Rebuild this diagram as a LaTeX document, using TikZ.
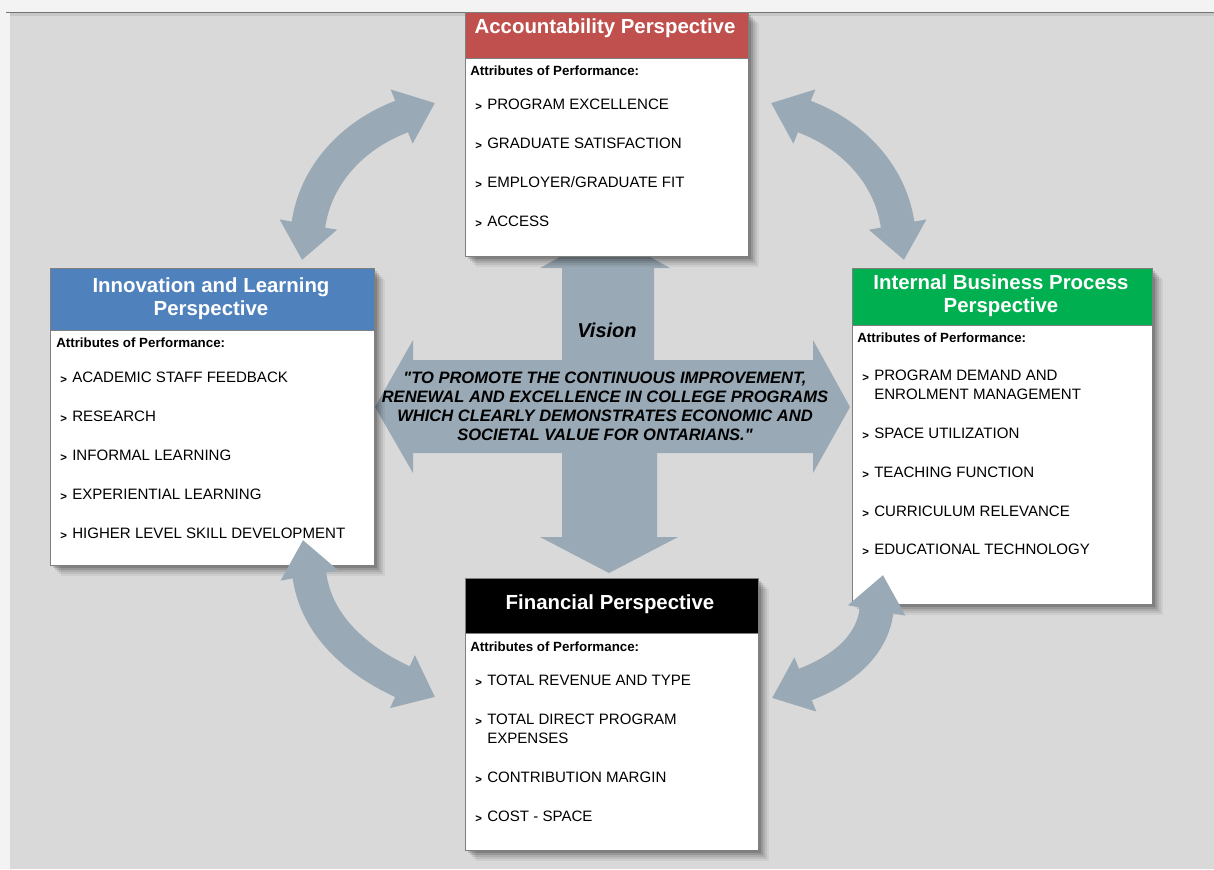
\documentclass[tikz,border=0pt]{standalone}
\usepackage{fontspec}
\setmainfont{Liberation Sans}
\usetikzlibrary{arrows.meta}
\definecolor{bgc}{HTML}{D9D9D9}
\definecolor{topc}{HTML}{F3F3F3}
\definecolor{arrc}{HTML}{99A9B5}
\definecolor{redh}{HTML}{C0504D}
\definecolor{blueh}{HTML}{4F81BD}
\definecolor{greenh}{HTML}{00B050}
\definecolor{edgec}{HTML}{7F7F7F}
\newcommand\bulmark{\makebox[0pt][r]{\raisebox{-1pt}{\fontsize{8.5}{8.5}\selectfont\bfseries >}\hspace{4pt}}}
\newcommand\rectnode[7]{%
  \pgfmathsetmacro\rw{(#4-#2)*0.75}\pgfmathsetmacro\rh{(#5-#3)*0.75}%
  \node[#6, minimum width=\rw pt, minimum height=\rh pt] (#1) at (#2,#3) {#7};}
\newcommand\softshadow[4]{%
  \foreach \k/\o in {11/0.05,9/0.07,7/0.09,5/0.12,3/0.15}{%
    \fill[black,opacity=\o] (#1+\k,#2+\k) rectangle (#3+\k,#4+\k);}}
\newcommand\itm[4]{\node[itm] (#1) at (#2,#3) {\bulmark #4};}
\newcommand\cnt[4]{\node[itm] (#1) at (#2,#3) {#4};}
\begin{document}
\begin{tikzpicture}[x=0.75pt,y=-0.75pt,
  hdr/.style={draw=edgec, line width=0.6pt, inner sep=0pt, anchor=north west},
  body/.style={draw=edgec, line width=0.6pt, fill=white, inner sep=0pt, anchor=north west},
  ttl/.style={text=white, font=\fontsize{15.3}{17.3}\selectfont\bfseries, align=center, inner sep=0pt},
  attr/.style={anchor=base west, inner sep=0pt, font=\fontsize{10}{12}\selectfont\bfseries},
  itm/.style={anchor=base west, inner sep=0pt, font=\fontsize{11.3}{13}\selectfont},
  bigarrow/.style={draw=arrc, line width=25.5pt, line join=round,
    {Triangle[length=27pt,width=42pt]}-{Triangle[length=27pt,width=42pt]}}
]
\useasboundingbox (0,0) rectangle (1214,869);
% background
\fill[topc] (0,0) rectangle (1214,869);
\fill[bgc] (10,12) rectangle (1214,869);
\fill[black,opacity=0.08] (10,12) rectangle (1214,16);
\draw[black!55, line width=1.1pt] (6,12.5) -- (1214,12.5);

% central cross arrow
\fill[arrc] (605,232) -- (670,268) -- (654,268) -- (654,360) -- (813,360) -- (813,340)
  -- (850,407) -- (813,473) -- (813,453) -- (657,453) -- (657,537) -- (678,537)
  -- (609,573) -- (540,537) -- (562,537) -- (562,453) -- (413,453) -- (413,473)
  -- (375,407) -- (413,340) -- (413,360) -- (562,360) -- (562,268) -- (540,268) -- cycle;
\node[font=\fontsize{15}{17}\selectfont\bfseries\itshape, inner sep=0pt] (vision) at (607,330) {Vision};
\node[font=\fontsize{12.4}{14.3}\selectfont\bfseries\itshape, align=center, inner sep=0pt] (quote) at (605,406)
  {\textquotedbl TO PROMOTE THE CONTINUOUS IMPROVEMENT,\\RENEWAL AND EXCELLENCE IN COLLEGE PROGRAMS\\WHICH CLEARLY DEMONSTRATES ECONOMIC AND\\SOCIETAL VALUE FOR ONTARIANS.\textquotedbl};

% shadows
\softshadow{465}{12}{748}{256}
\softshadow{50}{268}{374}{565}
\softshadow{852}{268}{1152}{604}
\softshadow{465}{578}{758}{850}

% Accountability box
\rectnode{accH}{465}{12}{748}{58}{hdr, fill=redh}{}
\rectnode{accB}{465}{58}{748}{256}{body}{}
\node[ttl] (accT) at (605,28) {Accountability Perspective};
\node[attr] (accA) at (470,75) {Attributes of Performance:};
\itm{acc1}{487}{109.5}{PROGRAM EXCELLENCE}
\itm{acc2}{487}{148.5}{GRADUATE SATISFACTION}
\itm{acc3}{487}{187.5}{EMPLOYER/GRADUATE FIT}
\itm{acc4}{487}{226.5}{ACCESS}

% Innovation box
\rectnode{innH}{50}{268}{374}{330}{hdr, fill=blueh}{}
\rectnode{innB}{50}{330}{374}{565}{body}{}
\node[ttl] (innT) at (211,298.5) {Innovation and Learning\\Perspective};
\node[attr] (innA) at (56,347) {Attributes of Performance:};
\itm{inn1}{72}{382.5}{ACADEMIC STAFF FEEDBACK}
\itm{inn2}{72}{421.5}{RESEARCH}
\itm{inn3}{72}{460.5}{INFORMAL LEARNING}
\itm{inn4}{72}{499.5}{EXPERIENTIAL LEARNING}
\itm{inn5}{72}{538.5}{HIGHER LEVEL SKILL DEVELOPMENT}

% Internal box
\rectnode{intH}{852}{268}{1152}{325}{hdr, fill=greenh}{}
\rectnode{intB}{852}{325}{1152}{604}{body}{}
\node[ttl] (intT) at (1001,295.5) {Internal Business Process\\Perspective};
\node[attr] (intA) at (857,342) {Attributes of Performance:};
\itm{int1}{874}{380.5}{PROGRAM DEMAND AND}
\cnt{int1b}{874}{399.5}{ENROLMENT MANAGEMENT}
\itm{int2}{874}{438.5}{SPACE UTILIZATION}
\itm{int3}{874}{477.5}{TEACHING FUNCTION}
\itm{int4}{874}{516.5}{CURRICULUM RELEVANCE}
\itm{int5}{874}{554.5}{EDUCATIONAL TECHNOLOGY}

% Financial box
\rectnode{finH}{465}{578}{758}{633}{hdr, fill=black}{}
\rectnode{finB}{465}{633}{758}{850}{body}{}
\node[ttl] (finT) at (610,604) {Financial Perspective};
\node[attr] (finA) at (470,651) {Attributes of Performance:};
\itm{fin1}{487}{685.5}{TOTAL REVENUE AND TYPE}
\itm{fin2}{487}{724.5}{TOTAL DIRECT PROGRAM}
\cnt{fin2b}{487}{743.5}{EXPENSES}
\itm{fin3}{487}{782.5}{CONTRIBUTION MARGIN}
\itm{fin4}{487}{821.5}{COST - SPACE}

% curved double arrows (tip -- head base .. arc .. head base -- tip)
\coordinate (a1s) at (302,260); \coordinate (a1e) at (435,103);
\draw[bigarrow] (a1s) -- (309,221) .. controls (317.4,173.4) and (353,136) .. (398,118) -- (a1e);
\coordinate (a2s) at (904,260); \coordinate (a2e) at (771,103);
\draw[bigarrow] (a2s) -- (897,221) .. controls (888.6,173.4) and (853,136) .. (808,118) -- (a2e);
\coordinate (a3s) at (303,540); \coordinate (a3e) at (435,697);
\draw[bigarrow] (a3s) -- (310,579) .. controls (318,626) and (356,659.5) .. (399,680) -- (a3e);
\coordinate (a4s) at (883,575); \coordinate (a4e) at (772,698);
\draw[bigarrow] (a4s) -- (876,614) .. controls (870,648) and (841,670) .. (809,683) -- (a4e);
\end{tikzpicture}
\end{document}
